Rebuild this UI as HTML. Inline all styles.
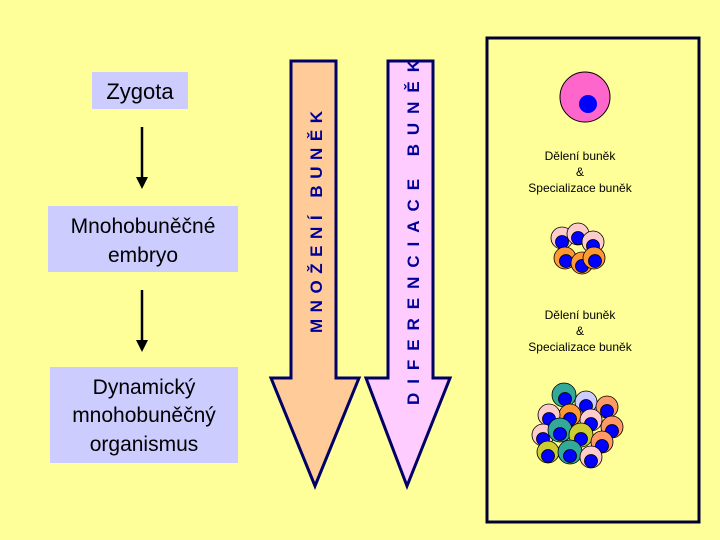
<!DOCTYPE html>
<html><head><meta charset="utf-8"><style>
html,body{margin:0;padding:0;background:#ffff99;}
svg{display:block}
text{font-family:"Liberation Sans",sans-serif}
</style></head><body>
<svg width="720" height="540" viewBox="0 0 720 540" xmlns="http://www.w3.org/2000/svg">
<rect width="720" height="540" fill="#ffff99"/>
<!-- left boxes -->
<rect x="92" y="72" width="96" height="37" fill="#ccccff"/>
<text x="140" y="99" font-size="22" text-anchor="middle" fill="#000">Zygota</text>
<rect x="48" y="206" width="190" height="66" fill="#ccccff"/>
<text x="143" y="233" font-size="21" text-anchor="middle" fill="#000">Mnohobuněčné</text>
<text x="143" y="262" font-size="21" text-anchor="middle" fill="#000">embryo</text>
<rect x="50" y="367" width="188" height="96" fill="#ccccff"/>
<text x="144" y="394" font-size="21" text-anchor="middle" fill="#000">Dynamický</text>
<text x="144" y="422" font-size="21" text-anchor="middle" fill="#000">mnohobuněčný</text>
<text x="144" y="451" font-size="21" text-anchor="middle" fill="#000">organismus</text>
<!-- black arrows -->
<line x1="142" y1="127" x2="142" y2="178" stroke="#000" stroke-width="2.5"/>
<polygon points="136,177 148,177 142,189" fill="#000"/>
<line x1="142" y1="290" x2="142" y2="341" stroke="#000" stroke-width="2.5"/>
<polygon points="136,340 148,340 142,352" fill="#000"/>
<!-- big arrows -->
<polygon points="291,61 336,61 336,378 359,378 315,486 271,378 291,378" fill="#ffcc99" stroke="#000066" stroke-width="3" stroke-linejoin="miter"/>
<polygon points="388,61 433,61 433,378 450,378 407,486 366,378 388,378" fill="#ffccff" stroke="#000066" stroke-width="3"/>
<text transform="translate(322,333) rotate(-90)" font-size="17" font-weight="bold" fill="#000099" textLength="222" lengthAdjust="spacing">MNOŽENÍ BUNĚK</text>
<text transform="translate(419,405) rotate(-90)" font-size="17" font-weight="bold" fill="#000099" textLength="345" lengthAdjust="spacing">DIFERENCIACE BUNĚK</text>
<!-- right box -->
<rect x="487" y="38" width="212" height="484" fill="none" stroke="#000033" stroke-width="3"/>
<circle cx="585" cy="97" r="25" fill="#ff66cc" stroke="#000" stroke-width="1"/>
<circle cx="588" cy="104" r="9" fill="#0000ff"/>
<g font-size="12" text-anchor="middle" fill="#000">
<text x="580" y="160">Dělení buněk</text>
<text x="580" y="176">&amp;</text>
<text x="580" y="192">Specializace buněk</text>
<text x="580" y="319">Dělení buněk</text>
<text x="580" y="335">&amp;</text>
<text x="580" y="351">Specializace buněk</text>
</g>
<!-- small cluster -->
<g stroke="#000" stroke-width="0.8">
<circle cx="562" cy="238" r="11" fill="#ffcccc"/><circle cx="562" cy="242" r="6.5" fill="#0000ff"/>
<circle cx="578" cy="234" r="11" fill="#ffcccc"/><circle cx="578" cy="238" r="6.5" fill="#0000ff"/>
<circle cx="593" cy="242" r="11" fill="#ffcccc"/><circle cx="593" cy="246" r="6.5" fill="#0000ff"/>
<circle cx="565" cy="258" r="11" fill="#ff9933"/><circle cx="566" cy="261" r="6.5" fill="#0000ff"/>
<circle cx="582" cy="263" r="11" fill="#ff9933"/><circle cx="582" cy="266" r="6.5" fill="#0000ff"/>
<circle cx="594" cy="258" r="11" fill="#ff9933"/><circle cx="595" cy="261" r="6.5" fill="#0000ff"/>
</g>
<!-- big cluster -->
<g stroke="#000" stroke-width="0.8">
<circle cx="564" cy="395" r="12" fill="#33aa99"/><circle cx="565" cy="399" r="6.5" fill="#0000ff"/>
<circle cx="586" cy="402" r="11" fill="#ccccff"/><circle cx="586" cy="406" r="6.5" fill="#0000ff"/>
<circle cx="607" cy="407" r="11" fill="#ff9966"/><circle cx="607" cy="411" r="6.5" fill="#0000ff"/>
<circle cx="570" cy="415" r="11" fill="#ff9933"/><circle cx="570" cy="419" r="6.5" fill="#0000ff"/>
<circle cx="549" cy="415" r="11" fill="#ffcccc"/><circle cx="549" cy="419" r="6.5" fill="#0000ff"/>
<circle cx="591" cy="420" r="11" fill="#ffcccc"/><circle cx="591" cy="424" r="6.5" fill="#0000ff"/>
<circle cx="612" cy="427" r="11" fill="#ff9966"/><circle cx="612" cy="431" r="6.5" fill="#0000ff"/>
<circle cx="543" cy="435" r="11" fill="#ffcccc"/><circle cx="543" cy="439" r="6.5" fill="#0000ff"/>
<circle cx="560" cy="430" r="12" fill="#33aa99"/><circle cx="560" cy="434" r="6.5" fill="#0000ff"/>
<circle cx="581" cy="435" r="12" fill="#cccc33"/><circle cx="581" cy="439" r="6.5" fill="#0000ff"/>
<circle cx="602" cy="442" r="11" fill="#ff9966"/><circle cx="602" cy="446" r="6.5" fill="#0000ff"/>
<circle cx="548" cy="452" r="11" fill="#cccc33"/><circle cx="548" cy="456" r="6.5" fill="#0000ff"/>
<circle cx="570" cy="452" r="12" fill="#33aa99"/><circle cx="570" cy="456" r="6.5" fill="#0000ff"/>
<circle cx="591" cy="457" r="11" fill="#ffcccc"/><circle cx="591" cy="461" r="6.5" fill="#0000ff"/>
</g>
</svg>
</body></html>
